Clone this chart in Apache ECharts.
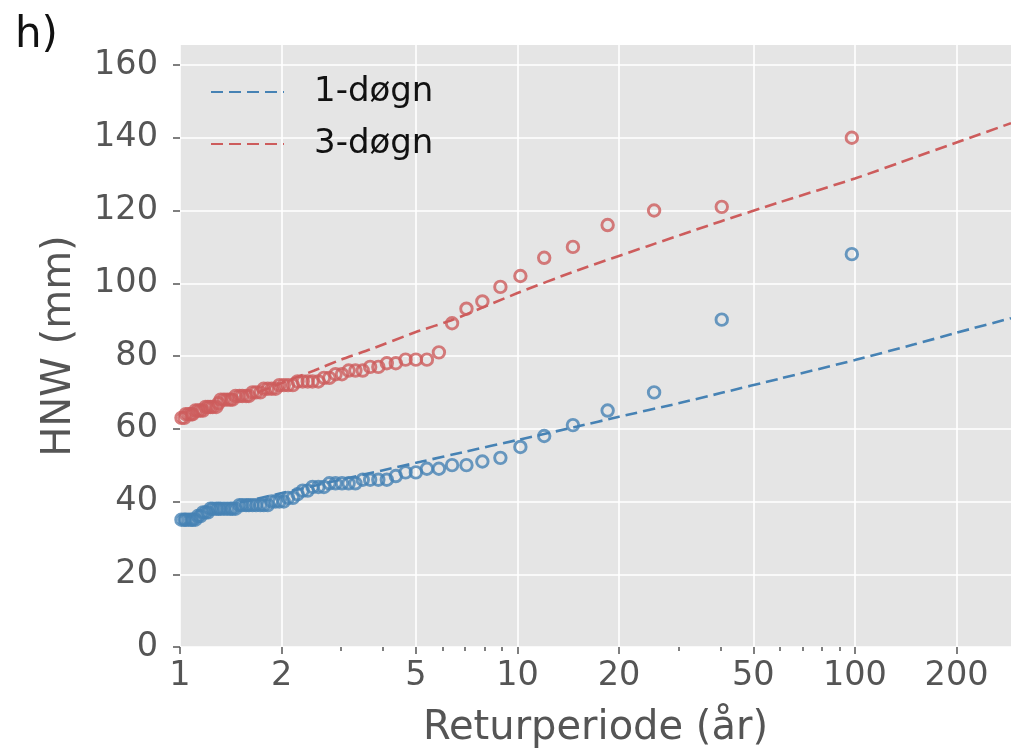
<!DOCTYPE html>
<html>
<head>
<meta charset="utf-8">
<script src="https://cdn.jsdelivr.net/npm/echarts@6/dist/echarts.min.js"></script>
<style>
  html, body { margin: 0; padding: 0; background: #fff; }
  #chart { width: 1011px; height: 755px; }
</style>
</head>
<body>
<div id="chart"></div>
<script>
// Plotting positions (return period in years), largest event first
const returnPeriods = [
  97.9, 40.3, 25.4, 18.5, 14.6, 12.0, 10.2, 8.90, 7.87, 7.06,
  6.40, 5.85, 5.39, 5.00, 4.66, 4.36, 4.10, 3.87, 3.66, 3.48,
  3.31, 3.16, 3.02, 2.89, 2.77, 2.67, 2.57, 2.47, 2.39, 2.31,
  2.23, 2.16, 2.09, 2.03, 1.97, 1.92, 1.87, 1.82, 1.77, 1.73,
  1.68, 1.64, 1.60, 1.57, 1.53, 1.50, 1.46, 1.43, 1.41, 1.38,
  1.35, 1.32, 1.30, 1.28, 1.25, 1.23, 1.21, 1.19, 1.17, 1.15,
  1.13, 1.11, 1.09, 1.08, 1.06, 1.04, 1.03, 1.01
];

// Observed 1-day maxima (mm)
const hnw1 = [
  108, 90, 70, 65, 61, 58, 55, 52, 51, 50,
  50, 49, 49, 48, 48, 47, 46, 46, 46, 46,
  45, 45, 45, 45, 45, 44, 44, 44, 43, 43,
  42, 41, 41, 40, 40, 40, 40, 39, 39, 39,
  39, 39, 39, 39, 39, 39, 38, 38, 38, 38,
  38, 38, 38, 38, 38, 38, 37, 37, 37, 36,
  36, 35, 35, 35, 35, 35, 35, 35
];

// Observed 3-day maxima (mm)
const hnw3 = [
  140, 121, 120, 116, 110, 107, 102, 99, 95, 93,
  89, 81, 79, 79, 79, 78, 78, 77, 77, 76,
  76, 76, 75, 75, 74, 74, 73, 73, 73, 73,
  73, 72, 72, 72, 72, 71, 71, 71, 71, 70,
  70, 70, 69, 69, 69, 69, 69, 68, 68, 68,
  68, 68, 67, 66, 66, 66, 66, 66, 65, 65,
  65, 65, 64, 64, 64, 64, 63, 63
];

// Fitted return-level curves
const fitPeriods1 = [1.5, 2, 3, 4, 5.16, 7, 10, 15, 20, 30, 40, 60, 100, 150, 200, 290];
const fitValues1  = [39.7, 42.3, 46.0, 48.6, 50.9, 53.7, 56.9, 60.6, 63.3, 67.0, 69.8, 73.8, 78.9, 83.2, 86.4, 90.4];
const fitPeriods3 = [1.7, 2, 2.5, 3, 3.66, 5, 6.45, 10, 15, 24.3, 40, 60, 100, 150, 200, 290];
const fitValues3  = [70.0, 72.6, 76.0, 79.0, 81.8, 86.6, 90.0, 97.3, 103.5, 110.2, 117.0, 122.3, 128.8, 134.6, 138.7, 144.0];

// Axis ticks
const xMajorTicks = [1, 2, 5, 10, 20, 50, 100, 200];
const xMinorTicks = [3, 4, 6, 7, 8, 9, 30, 40, 60, 70, 80, 90];
const yTicks = [0, 20, 40, 60, 80, 100, 120, 140, 160];

const seriesNames = ['1-døgn', '3-døgn'];
const BLUE = '#4682B4';
const RED = '#CD5C5C';
const FONT = 'DejaVu Sans';

const pairs = (xs, ys) => xs.map((x, i) => [x, ys[i]]);

const chart = echarts.init(document.getElementById('chart'), null, { renderer: 'canvas' });

const tickStyle = { color: '#555', width: 1.5 };
const dash = [12, 6];

chart.setOption({
  backgroundColor: '#fff',
  animation: false,
  title: {
    text: 'h)',
    left: 10,
    top: 10,
    textStyle: { fontFamily: FONT, fontSize: 42, fontWeight: 'normal', color: '#111' }
  },
  legend: {
    data: seriesNames,
    orient: 'vertical',
    left: 210,
    top: 72,
    padding: 0,
    itemWidth: 73,
    itemHeight: 14,
    itemGap: 12,
    itemStyle: { opacity: 0 },
    textStyle: {
      fontFamily: FONT, fontSize: 34, color: '#111',
      lineHeight: 40, padding: [0, 0, 0, 25]
    }
  },
  grid: {
    left: 180, right: 0, top: 45, bottom: 108,
    show: true, backgroundColor: '#E5E5E5', borderWidth: 0
  },
  xAxis: [
    {
      type: 'log',
      logBase: 10,
      min: 1,
      max: 290,
      name: 'Returperiode (år)',
      nameLocation: 'middle',
      nameGap: 62,
      nameTextStyle: { fontFamily: FONT, fontSize: 40, color: '#555' },
      axisLine: { show: false },
      axisTick: { show: true, length: 7, lineStyle: tickStyle, customValues: xMajorTicks },
      axisLabel: {
        fontFamily: FONT, fontSize: 33.5, color: '#555', margin: 12,
        customValues: xMajorTicks,
        formatter: v => String(Math.round(v))
      },
      splitLine: { show: true, lineStyle: { color: '#fff', width: 1.6 } }
    },
    {
      type: 'log',
      logBase: 10,
      min: 1,
      max: 290,
      position: 'bottom',
      axisLine: { show: false },
      axisTick: { show: true, length: 4, lineStyle: tickStyle, customValues: xMinorTicks },
      axisLabel: { show: false },
      splitLine: { show: false }
    }
  ],
  yAxis: {
    type: 'value',
    min: 0,
    max: 165.5,
    interval: 20,
    name: 'HNW (mm)',
    nameLocation: 'middle',
    nameGap: 100,
    nameTextStyle: { fontFamily: FONT, fontSize: 40, color: '#555' },
    axisLine: { show: false },
    axisTick: { show: true, length: 7, lineStyle: tickStyle, customValues: yTicks },
    axisLabel: { fontFamily: FONT, fontSize: 33.5, color: '#555', margin: 22, customValues: yTicks },
    splitLine: { show: true, lineStyle: { color: '#fff', width: 1.6 } }
  },
  series: [
    {
      name: '1-døgn observert',
      type: 'scatter',
      data: pairs(returnPeriods, hnw1),
      symbol: 'circle',
      symbolSize: 11.5,
      itemStyle: { color: 'rgba(0,0,0,0)', borderColor: BLUE, borderWidth: 2.9 },
      z: 2
    },
    {
      name: '3-døgn observert',
      type: 'scatter',
      data: pairs(returnPeriods, hnw3),
      symbol: 'circle',
      symbolSize: 11.5,
      itemStyle: { color: 'rgba(0,0,0,0)', borderColor: RED, borderWidth: 2.9 },
      z: 2
    },
    {
      name: seriesNames[0],
      type: 'line',
      data: pairs(fitPeriods1, fitValues1),
      smooth: 0.2,
      symbol: 'none',
      showSymbol: false,
      color: BLUE,
      lineStyle: { color: BLUE, width: 2.6, type: dash },
      z: 3
    },
    {
      name: seriesNames[1],
      type: 'line',
      data: pairs(fitPeriods3, fitValues3),
      smooth: 0.2,
      symbol: 'none',
      showSymbol: false,
      color: RED,
      lineStyle: { color: RED, width: 2.6, type: dash },
      z: 3
    }
  ]
});
</script>
</body>
</html>
